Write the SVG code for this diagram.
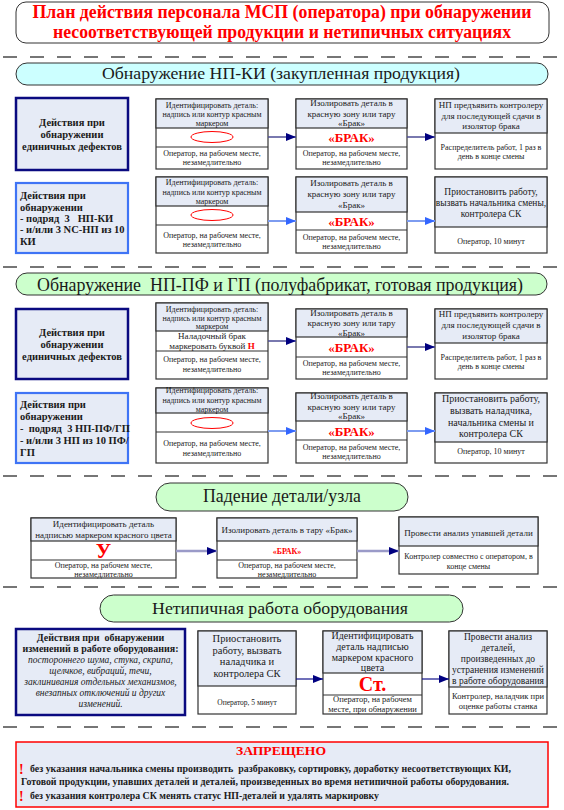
<svg xmlns="http://www.w3.org/2000/svg" width="564" height="810" viewBox="0 0 564 810" font-family="'Liberation Serif', 'Times New Roman', serif">
<defs>
<style>
text{font-family:"Liberation Serif","Times New Roman",serif;fill:#1a1a1a;white-space:pre}
.c{text-anchor:middle}
.b{font-weight:bold}
.i{font-style:italic}
.r{fill:#ff0000}
.s8{font-size:8px}.s9{font-size:9px}.s95{font-size:9.5px}.s10{font-size:10px}.s105{font-size:10.5px}
.cell{fill:#fff;stroke:#333;stroke-width:1.2}
.hd{fill:#e6ebf6;stroke:#333;stroke-width:1.2}
.sep{stroke:#333;stroke-width:1.2}
.dash{stroke:#4a4a4a;stroke-width:1.3;stroke-dasharray:14 13}
.lb1{fill:#e6ebf6;stroke:#0a0a80;stroke-width:2.5}
.lb2{fill:#e6ebf6;stroke:#3f74f5;stroke-width:2.2}
.ov{fill:none;stroke:#ff0000;stroke-width:1}
.pill{stroke:#333;stroke-width:1}
.an{stroke:#4d4d94;stroke-width:1.5;fill:none;marker-end:url(#hn)}
.ab{stroke:#7d9cf0;stroke-width:2;fill:none;marker-end:url(#hb)}
.al{stroke:#9a9ac8;stroke-width:2.5;fill:none;marker-end:url(#hn)}
.at{stroke:#10108a;stroke-width:1.2;fill:none;marker-end:url(#hn)}
</style>
<marker id="hn" markerUnits="userSpaceOnUse" markerWidth="10" markerHeight="8" refX="10" refY="4" orient="auto"><path d="M0,0 L10,4 L0,8 z" fill="#000080"/></marker>
<marker id="hb" markerUnits="userSpaceOnUse" markerWidth="10" markerHeight="8" refX="10" refY="4" orient="auto"><path d="M0,0 L10,4 L0,8 z" fill="#3366ff"/></marker>
</defs>
<rect width="564" height="810" fill="#fff"/>

<g id="title">
<rect x="16" y="2" width="533" height="41" rx="10" fill="#fff" stroke="#333"/>
<text class="c b r" x="282" y="18" font-size="18" textLength="499" lengthAdjust="spacingAndGlyphs">План действия персонала МСП (оператора) при обнаружении</text>
<text class="c b r" x="282" y="37.5" font-size="18" textLength="458" lengthAdjust="spacingAndGlyphs">несоответствующей продукции и нетипичных ситуациях</text>
</g>

<g id="dividers">
<line class="dash" x1="3" y1="57" x2="564" y2="57"/>
<line class="dash" x1="3" y1="267" x2="564" y2="267"/>
<line class="dash" x1="3" y1="476" x2="564" y2="476"/>
<line class="dash" x1="3" y1="587" x2="564" y2="587"/>
<line class="dash" x1="3" y1="727" x2="564" y2="727"/>
</g>

<g id="h1">
<rect class="pill" x="16" y="63" width="532" height="22" rx="11" fill="#ccffff"/>
<text class="c" x="281" y="79" font-size="17" textLength="358" lengthAdjust="spacingAndGlyphs">Обнаружение НП-КИ (закупленная продукция)</text>
</g>

<!-- Section 1 row 1 -->
<g id="s1r1-left">
<rect class="lb1" x="16" y="98" width="112" height="72"/>
<text class="c b s105" x="72" y="126">Действия при</text>
<text class="c b s105" x="72" y="138">обнаружении</text>
<text class="c b s105" x="72" y="150">единичных дефектов</text>
</g>
<g id="s1r1-ident">
<rect class="cell" x="156" y="99" width="112" height="70"/>
<rect class="hd" x="156" y="99" width="112" height="29"/>
<line class="sep" x1="156" y1="147" x2="268" y2="147"/>
<text class="c s8" x="212" y="108">Идентифицировать деталь:</text>
<text class="c s8" x="212" y="117">надпись или контур красным</text>
<text class="c s8" x="212" y="126">маркером</text>
<ellipse class="ov" cx="212" cy="137" rx="21" ry="5.5"/>
<text class="c s8" x="212" y="156">Оператор, на рабочем месте,</text>
<text class="c s8" x="212" y="165">незамедлительно</text>
</g>
<g id="s1r1-isol">
<rect class="cell" x="296" y="99" width="111" height="70"/>
<rect class="hd" x="296" y="99" width="111" height="29"/>
<line class="sep" x1="296" y1="147" x2="407" y2="147"/>
<text class="c s9" x="351.5" y="106">Изолировать деталь в</text>
<text class="c s9" x="351.5" y="116.5">красную зону или тару</text>
<text class="c s9" x="351.5" y="126">«Брак»</text>
<text class="c b r" x="351.5" y="141.5" font-size="13">«БРАК»</text>
<text class="c s8" x="351.5" y="156">Оператор, на рабочем месте,</text>
<text class="c s8" x="351.5" y="165">незамедлительно</text>
</g>
<g id="s1r1-hand">
<rect class="cell" x="435" y="99" width="112" height="70"/>
<rect class="hd" x="435" y="99" width="112" height="34"/>
<text class="c s9" x="491" y="108">НП предъявить контролеру</text>
<text class="c s9" x="491" y="119">для последующей сдачи в</text>
<text class="c s9" x="491" y="129">изолятор брака</text>
<text class="c s8" x="491" y="150">Распределитель работ, 1 раз в</text>
<text class="c s8" x="491" y="159">день в конце смены</text>
</g>

<!-- Section 1 row 2 -->
<g id="s1r2-left">
<rect class="lb2" x="16" y="183" width="112" height="70"/>
<text class="b s105" x="20" y="198.5">Действия при</text>
<text class="b s105" x="20" y="210.5">обнаружении</text>
<text class="b s105" x="20" y="221.5">- подряд  3   НП-КИ</text>
<text class="b s105" x="20" y="232.5">- и/или 3 NC-НП из 10</text>
<text class="b s105" x="20" y="244.5">КИ</text>
</g>
<g id="s1r2-ident">
<rect class="cell" x="156" y="177" width="112" height="76"/>
<rect class="hd" x="156" y="177" width="112" height="29"/>
<line class="sep" x1="156" y1="225" x2="268" y2="225"/>
<text class="c s8" x="212" y="185">Идентифицировать деталь:</text>
<text class="c s8" x="212" y="195">надпись или контур красным</text>
<text class="c s8" x="212" y="204">маркером</text>
<ellipse class="ov" cx="212" cy="215" rx="21" ry="5.5"/>
<text class="c s8" x="212" y="238">Оператор, на рабочем месте,</text>
<text class="c s8" x="212" y="247">незамедлительно</text>
</g>
<g id="s1r2-isol">
<rect class="cell" x="296" y="177" width="111" height="76"/>
<rect class="hd" x="296" y="177" width="111" height="35"/>
<line class="sep" x1="296" y1="230" x2="407" y2="230"/>
<text class="c s9" x="351.5" y="186">Изолировать деталь в</text>
<text class="c s9" x="351.5" y="197">красную зону или тару</text>
<text class="c s9" x="351.5" y="208">«Брак»</text>
<text class="c b r" x="351.5" y="225.5" font-size="13">«БРАК»</text>
<text class="c s8" x="351.5" y="240">Оператор, на рабочем месте,</text>
<text class="c s8" x="351.5" y="248.5">незамедлительно</text>
</g>
<g id="s1r2-stop">
<rect class="cell" x="435" y="177" width="112" height="76"/>
<rect class="hd" x="435" y="177" width="112" height="50"/>
<text class="c s95" x="491" y="195">Приостановить работу,</text>
<text class="c s95" x="491" y="206">вызвать начальника смены,</text>
<text class="c s95" x="491" y="216.5">контролера СК</text>
<text class="c s8" x="491" y="244">Оператор, 10 минут</text>
</g>

<g id="h2">
<rect class="pill" x="16" y="273" width="531" height="22" rx="11" fill="#ccffcc"/>
<text class="c" x="280" y="291" font-size="19" textLength="486" lengthAdjust="spacingAndGlyphs">Обнаружение  НП-ПФ и ГП (полуфабрикат, готовая продукция)</text>
</g>

<!-- Section 2 row 1 -->
<g id="s2r1-left">
<rect class="lb1" x="16" y="309" width="112" height="70"/>
<text class="c b s105" x="72" y="336">Действия при</text>
<text class="c b s105" x="72" y="347.5">обнаружении</text>
<text class="c b s105" x="72" y="359.5">единичных дефектов</text>
</g>
<g id="s2r1-ident">
<rect class="cell" x="156" y="303" width="112" height="76"/>
<rect class="hd" x="156" y="303" width="112" height="28"/>
<line class="sep" x1="156" y1="351" x2="268" y2="351"/>
<text class="c s8" x="212" y="312">Идентифицировать деталь:</text>
<text class="c s8" x="212" y="320.5">надпись или контур красным</text>
<text class="c s8" x="212" y="329">маркером</text>
<text class="c s9" x="212" y="338.5">Наладочный брак</text>
<text class="c s9" x="212" y="349">маркеровать буквой <tspan class="b r">Н</tspan></text>
<text class="c s8" x="212" y="362">Оператор, на рабочем месте,</text>
<text class="c s8" x="212" y="372">незамедлительно</text>
</g>
<g id="s2r1-isol">
<rect class="cell" x="296" y="309" width="111" height="70"/>
<rect class="hd" x="296" y="309" width="111" height="28"/>
<line class="sep" x1="296" y1="357" x2="407" y2="357"/>
<text class="c s9" x="351.5" y="316">Изолировать деталь в</text>
<text class="c s9" x="351.5" y="326">красную зону или тару</text>
<text class="c s9" x="351.5" y="336">«Брак»</text>
<text class="c b r" x="351.5" y="351.5" font-size="13">«БРАК»</text>
<text class="c s8" x="351.5" y="366">Оператор, на рабочем месте,</text>
<text class="c s8" x="351.5" y="375">незамедлительно</text>
</g>
<g id="s2r1-hand">
<rect class="cell" x="435" y="309" width="112" height="70"/>
<rect class="hd" x="435" y="309" width="112" height="34"/>
<text class="c s9" x="491" y="317">НП предъявить контролеру</text>
<text class="c s9" x="491" y="328">для последующей сдачи в</text>
<text class="c s9" x="491" y="339">изолятор брака</text>
<text class="c s8" x="491" y="360">Распределитель работ, 1 раз в</text>
<text class="c s8" x="491" y="369">день в конце смены</text>
</g>

<!-- Section 2 row 2 -->
<g id="s2r2-left">
<rect class="lb2" x="16" y="393" width="112" height="70"/>
<text class="b s105" x="20" y="407.5">Действия при</text>
<text class="b s105" x="20" y="419.5">обнаружении</text>
<text class="b s105" x="20" y="431.5">-  подряд  3 НП-ПФ/ГП</text>
<text class="b s105" x="20" y="443.5">- и/или 3 НП из 10 ПФ/</text>
<text class="b s105" x="20" y="455.5">ГП</text>
</g>
<g id="s2r2-ident">
<rect class="cell" x="156" y="388" width="112" height="75"/>
<rect class="hd" x="156" y="388" width="112" height="25"/>
<line class="sep" x1="156" y1="432" x2="268" y2="432"/>
<text class="c s8" x="212" y="393">Идентифицировать деталь:</text>
<text class="c s8" x="212" y="402.5">надпись или контур красным</text>
<text class="c s8" x="212" y="411.5">маркером</text>
<ellipse class="ov" cx="212" cy="423" rx="21" ry="5.5"/>
<text class="c s8" x="212" y="446">Оператор, на рабочем месте,</text>
<text class="c s8" x="212" y="456">незамедлительно</text>
</g>
<g id="s2r2-isol">
<rect class="cell" x="296" y="393" width="111" height="70"/>
<rect class="hd" x="296" y="393" width="111" height="28"/>
<line class="sep" x1="296" y1="440" x2="407" y2="440"/>
<text class="c s9" x="351.5" y="399">Изолировать деталь в</text>
<text class="c s9" x="351.5" y="410">красную зону или тару</text>
<text class="c s9" x="351.5" y="419">«Брак»</text>
<text class="c b r" x="351.5" y="435.5" font-size="13">«БРАК»</text>
<text class="c s8" x="351.5" y="450">Оператор, на рабочем месте,</text>
<text class="c s8" x="351.5" y="459">незамедлительно</text>
</g>
<g id="s2r2-stop">
<rect class="cell" x="435" y="393" width="112" height="70"/>
<rect class="hd" x="435" y="393" width="112" height="49"/>
<text class="c s10" x="491" y="401.5">Приостановить работу,</text>
<text class="c s10" x="491" y="413.5">вызвать наладчика,</text>
<text class="c s10" x="491" y="425.5">начальника смены и</text>
<text class="c s10" x="491" y="436.5">контролера СК</text>
<text class="c s8" x="491" y="454">Оператор, 10 минут</text>
</g>

<g id="h3">
<rect class="pill" x="156" y="483" width="252" height="28" rx="14" fill="#ccffcc"/>
<text class="c" x="282" y="502" font-size="18" textLength="158" lengthAdjust="spacingAndGlyphs">Падение детали/узла</text>
</g>

<g id="s3-ident">
<rect class="cell" x="31" y="518" width="145" height="60"/>
<rect class="hd" x="31" y="518" width="145" height="23"/>
<line class="sep" x1="31" y1="560" x2="176" y2="560"/>
<text class="c s9" x="103.5" y="527">Идентифицировать деталь</text>
<text class="c s9" x="103.5" y="538">надписью маркером красного цвета</text>
<text class="c b r" x="103.5" y="557.5" font-size="21">У</text>
<text class="c s8" x="103.5" y="568">Оператор, на рабочем месте,</text>
<text class="c s8" x="103.5" y="576.5">незамедлительно</text>
</g>
<g id="s3-isol">
<rect class="cell" x="217" y="518" width="140" height="60"/>
<rect class="hd" x="217" y="518" width="140" height="23"/>
<line class="sep" x1="217" y1="560" x2="357" y2="560"/>
<text class="c s9" x="287" y="533">Изолировать деталь в тару «Брак»</text>
<text class="c b r s8" x="287" y="554">«БРАК»</text>
<text class="c s8" x="287" y="568">Оператор, на рабочем месте,</text>
<text class="c s8" x="287" y="576.5">незамедлительно</text>
</g>
<g id="s3-anal">
<rect class="cell" x="399" y="517" width="139" height="57"/>
<rect class="hd" x="399" y="517" width="139" height="29"/>
<text class="c s9" x="468.5" y="536">Провести анализ упавшей детали</text>
<text class="c s8" x="468.5" y="559">Контролер совместно с оператором, в</text>
<text class="c s8" x="468.5" y="569">конце смены</text>
</g>

<g id="h4">
<rect class="pill" x="100" y="595" width="363" height="27" rx="13.5" fill="#ccffcc"/>
<text class="c" x="280" y="613.5" font-size="17.5" textLength="256" lengthAdjust="spacingAndGlyphs">Нетипичная работа оборудования</text>
</g>

<g id="s4-left">
<rect class="lb1" x="16" y="629" width="169" height="86" stroke-width="2"/>
<text class="c b s10" x="100.5" y="640.5">Действия при  обнаружении</text>
<text class="c b s10" x="100.5" y="651.5">изменений в работе оборудования:</text>
<text class="c i s95" x="100.5" y="663">постороннего шума, стука, скрипа,</text>
<text class="c i s95" x="100.5" y="674">щелчков, вибраций, течи,</text>
<text class="c i s95" x="100.5" y="684.5">заклинивания отдельных механизмов,</text>
<text class="c i s95" x="100.5" y="695.5">внезапных отключений и других</text>
<text class="c i s95" x="100.5" y="707">изменений.</text>
</g>
<g id="s4-stop">
<rect class="cell" x="198" y="631" width="98" height="83"/>
<rect class="hd" x="198" y="631" width="98" height="55"/>
<text class="c s105" x="247" y="641.5">Приостановить</text>
<text class="c s105" x="247" y="653.5">работу, вызвать</text>
<text class="c s105" x="247" y="665">наладчика и</text>
<text class="c s105" x="247" y="677">контролера СК</text>
<text class="c" x="247" y="704.5" font-size="7.5">Оператор, 5 минут</text>
</g>
<g id="s4-ident">
<rect class="cell" x="323" y="631" width="99" height="83"/>
<rect class="hd" x="323" y="631" width="99" height="42"/>
<line class="sep" x1="323" y1="695" x2="422" y2="695"/>
<text class="c s10" x="372.5" y="638.5">Идентифицировать</text>
<text class="c s10" x="372.5" y="649.5">деталь надписью</text>
<text class="c s10" x="372.5" y="660.5">маркером красного</text>
<text class="c s10" x="372.5" y="670.5">цвета</text>
<text class="c b r" x="372.5" y="690.5" font-size="20">Ст.</text>
<text class="c" x="372.5" y="702" font-size="8.5">Оператор, на рабочем</text>
<text class="c" x="372.5" y="711.5" font-size="8.5">месте, при обнаружении</text>
</g>
<g id="s4-anal">
<rect class="cell" x="449" y="631" width="98" height="83"/>
<rect class="hd" x="449" y="631" width="98" height="56"/>
<text class="c s95" x="498" y="640">Провести анализ</text>
<text class="c s95" x="498" y="651">деталей,</text>
<text class="c s95" x="498" y="662">произведенных до</text>
<text class="c s95" x="498" y="673">устранения изменений</text>
<text class="c s95" x="498" y="683.5">в работе оборудования</text>
<text class="c" x="498" y="699" font-size="8.5">Контролер, наладчик при</text>
<text class="c" x="498" y="708.5" font-size="8.5">оценке работы станка</text>
</g>

<g id="forbidden">
<rect x="16" y="742" width="532" height="65" fill="#e6ebf6" stroke="#ff0000" stroke-width="1.5"/>
<text class="c b r" x="281" y="755" font-size="13" textLength="90" lengthAdjust="spacingAndGlyphs">ЗАПРЕЩЕНО</text>
<text class="b r" x="19" y="773.5" font-size="14">!</text>
<text class="b s95" x="30" y="772" textLength="481" lengthAdjust="spacingAndGlyphs">без указания начальника смены производить  разбраковку, сортировку, доработку несоответствующих КИ,</text>
<text class="b s95" x="21" y="785" textLength="488" lengthAdjust="spacingAndGlyphs">Готовой продукции, упавших деталей и деталей, произведенных во время нетипичной работы оборудования.</text>
<text class="b r" x="19" y="800.5" font-size="14">!</text>
<text class="b s95" x="30" y="799" textLength="349" lengthAdjust="spacingAndGlyphs">без указания контролера СК менять статус НП-деталей и удалять маркировку</text>
</g>

<g id="connectors">
<line class="an" x1="268" y1="137" x2="296" y2="137"/>
<line class="an" x1="407" y1="137" x2="435" y2="137"/>
<line class="ab" x1="268" y1="221" x2="296" y2="221"/>
<line class="ab" x1="407" y1="221" x2="435" y2="221"/>
<line class="an" x1="268" y1="341" x2="296" y2="341"/>
<line class="an" x1="407" y1="347" x2="435" y2="347"/>
<line class="ab" x1="268" y1="431" x2="296" y2="431"/>
<line class="ab" x1="407" y1="431" x2="435" y2="431"/>
<line class="al" x1="176" y1="551" x2="217" y2="551"/>
<line class="al" x1="357" y1="551" x2="399" y2="551"/>
<line class="at" x1="296" y1="679" x2="323" y2="679"/>
<line class="at" x1="422" y1="679" x2="449" y2="679"/>
</g>
</svg>
